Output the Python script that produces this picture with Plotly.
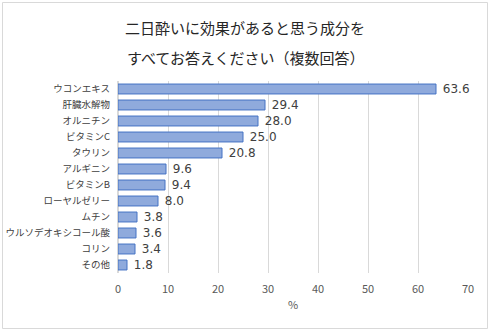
import plotly.graph_objects as go

categories = ["ウコンエキス", "肝臓水解物", "オルニチン", "ビタミンC", "タウリン", "アルギニン",
              "ビタミンB", "ローヤルゼリー", "ムチン", "ウルソデオキシコール酸", "コリン", "その他"]
values = [63.6, 29.4, 28.0, 25.0, 20.8, 9.6, 9.4, 8.0, 3.8, 3.6, 3.4, 1.8]
x_ticks = [0, 10, 20, 30, 40, 50, 60, 70]
title_lines = ["二日酔いに効果があると思う成分を", "すべてお答えください（複数回答）"]

FONT = "Noto Sans CJK JP, Noto Sans, sans-serif"
W, H = 490, 331
L, R, T, B = 118, 22, 81, 58

fig = go.Figure(go.Bar(
    x=values, y=categories, orientation="h",
    marker=dict(color="#8FAADC", line=dict(color="#4472C4", width=1)),
    text=[f" {v:.1f}" for v in values], textposition="outside", constraintext="none",
    textfont=dict(size=12, color="#404040", family="DejaVu Sans, sans-serif"),
    cliponaxis=False, width=0.62,
))

pw, ph = W - L - R, H - T - B
def px_x(p): return (p - L) / pw
def px_y(p): return (H - B - p) / ph

fig.add_shape(type="rect", xref="paper", yref="paper",
              x0=px_x(2.5), x1=px_x(487.5), y0=px_y(328.5), y1=px_y(2.5),
              line=dict(color="#D9D9D9", width=1), layer="below")

for i, line in enumerate(title_lines):
    fig.add_annotation(text=line, xref="paper", yref="paper", x=px_x(245), y=px_y(27 + 30 * i),
                       showarrow=False, xanchor="center", yanchor="middle",
                       font=dict(size=15, color="#262626", family=FONT))

fig.update_layout(
    width=W, height=H, margin=dict(l=L, r=R, t=T, b=B),
    paper_bgcolor="white", plot_bgcolor="white",
    font=dict(family=FONT, color="#595959", size=11),
    showlegend=False,
    xaxis=dict(range=[0, 70], tickvals=x_ticks, showgrid=True, gridcolor="#D9D9D9",
               zeroline=True, zerolinecolor="#D9D9D9", showline=False, automargin=False,
               tickfont=dict(size=11, color="#595959"), ticks="", ticklabelstandoff=8,
               title=dict(text="%", font=dict(size=11, color="#595959"), standoff=6)),
    yaxis=dict(categoryorder="array", categoryarray=categories, autorange="reversed",
               showgrid=False, showline=False, ticks="", ticklabelstandoff=7, automargin=False,
               tickfont=dict(size=9.5, color="#404040")),
)
fig.write_html("out.html")
